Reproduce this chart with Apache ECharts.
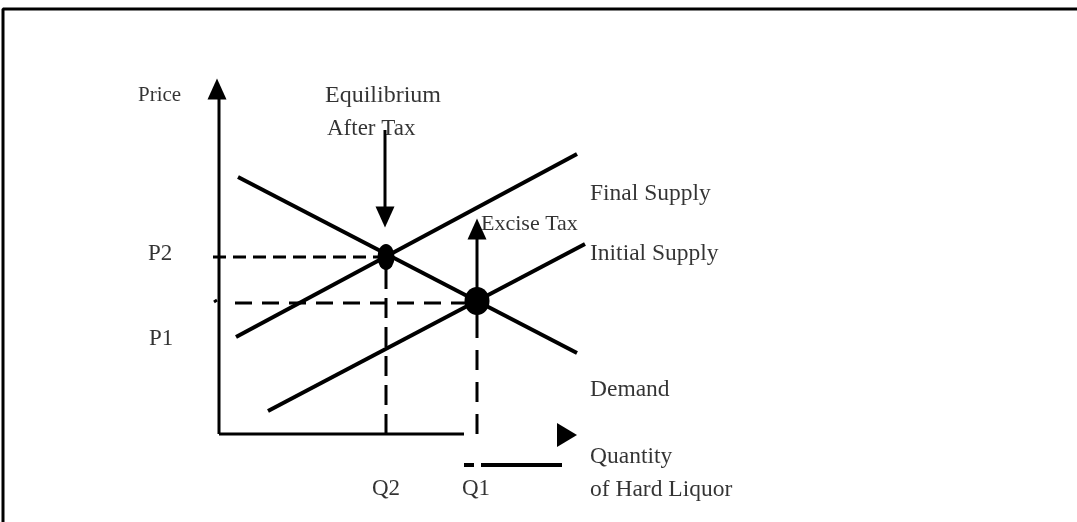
<!DOCTYPE html>
<html>
<head>
<meta charset="utf-8">
<title>Excise tax on hard liquor</title>
<script src="https://cdn.jsdelivr.net/npm/echarts@6/dist/echarts.min.js"></script>
<style>
  html, body { margin: 0; padding: 0; background: #fff; }
  #chart { width: 1077px; height: 522px; }
</style>
</head>
<body>
<div id="chart"></div>
<script>
// quantity / price units, origin where the two axes meet
const demand = [[19, 257], [358, 81]]
const initialSupply = [[49, 23], [366, 190]]
const finalSupply = [[17, 97], [358, 280]]
const afterTaxEq = [167, 177]
const initialEq = [258, 133]

const priceAxis = [[0, 0], [0, 336]]
const quantityAxis = [[0, 0], [245, 0]]
const p2Guide = [[-6, 177], [167, 177]]
const p1Guide = [[16, 131], [246, 131]]
const q2Guide = [[167, 0], [167, 172]]
const q1Guide = [[258, 0], [258, 97]]
const taxArrow = [[258, 97], [258, 196]]
const eqArrow = [[166, 304], [166, 226]]
const underline1 = [[245, -31], [255, -31]]
const underline2 = [[262, -31], [343, -31]]
const stray = [[-5, 132], [-2, 134]]
const frame = [[-216, -100], [-216, 425], [870, 425]]

// arrow heads: [x, y, rotation]
const arrowHeads = [[-2, 345, 0], [166, 217, 180], [258, 205, 0], [348, -1, -90]]

// text labels: [x, y, text, font size]
const labels = [
  [-81, 339, 'Price', 21],
  [106, 338.5, 'Equilibrium', 24],
  [108, 305.5, 'After Tax', 23],
  [262, 210, 'Excise Tax', 22],
  [371, 240, 'Final Supply', 23.5],
  [371, 180, 'Initial Supply', 23.5],
  [371, 44.5, 'Demand', 23.5],
  [371, -22.5, 'Quantity', 23.5],
  [371, -56, 'of Hard Liquor', 23.5],
  [-71, 180, 'P2', 23],
  [-70, 95, 'P1', 23],
  [153, -55, 'Q2', 23],
  [243, -55, 'Q1', 23]
]

function seg(data, width, dash) {
  return {
    type: 'line',
    data: data,
    symbol: 'none',
    silent: true,
    lineStyle: { color: '#000', width: width, type: dash || 'solid', cap: 'butt', opacity: 1 }
  }
}

const chart = echarts.init(document.getElementById('chart'))

const option = {
  animation: false,
  backgroundColor: '#fff',
  grid: { left: 0, top: 0, right: 0, bottom: 0 },
  xAxis: { type: 'value', min: -219, max: 858, show: false },
  yAxis: { type: 'value', min: -88, max: 434, show: false },
  series: [
    seg(frame, 3),
    seg(priceAxis, 3),
    seg(quantityAxis, 3),
    seg(demand, 4),
    seg(initialSupply, 4),
    seg(finalSupply, 4),
    seg(p2Guide, 3, [13, 7]),
    seg(p1Guide, 3, [17, 10]),
    seg(q2Guide, 3, [20, 9]),
    seg(q1Guide, 3, [20, 12]),
    seg(taxArrow, 3),
    seg(eqArrow, 3),
    seg(underline1, 4),
    seg(underline2, 4),
    seg(stray, 3),
    {
      type: 'scatter',
      silent: true,
      data: arrowHeads.map(a => ({
        value: [a[0], a[1]],
        symbolRotate: a[2],
        symbolSize: a[2] === -90 ? [24, 20] : [19, 21]
      })),
      symbol: 'triangle',
      itemStyle: { color: '#000', opacity: 1 }
    },
    {
      type: 'scatter',
      silent: true,
      data: [
        { value: afterTaxEq, symbolSize: [17, 26] },
        { value: initialEq, symbolSize: [25, 28] }
      ],
      symbol: 'circle',
      itemStyle: { color: '#000', opacity: 1 }
    },
    {
      type: 'scatter',
      silent: true,
      symbolSize: 0,
      data: labels.map(l => ({
        value: [l[0], l[1]],
        label: {
          show: true,
          formatter: l[2],
          fontSize: l[3],
          color: '#000',
          position: [0, 0],
          align: 'left',
          verticalAlign: 'middle',
          fontFamily: '"Liberation Serif", "DejaVu Serif", serif'
        }
      }))
    }
  ]
}

chart.setOption(option)
</script>
</body>
</html>
